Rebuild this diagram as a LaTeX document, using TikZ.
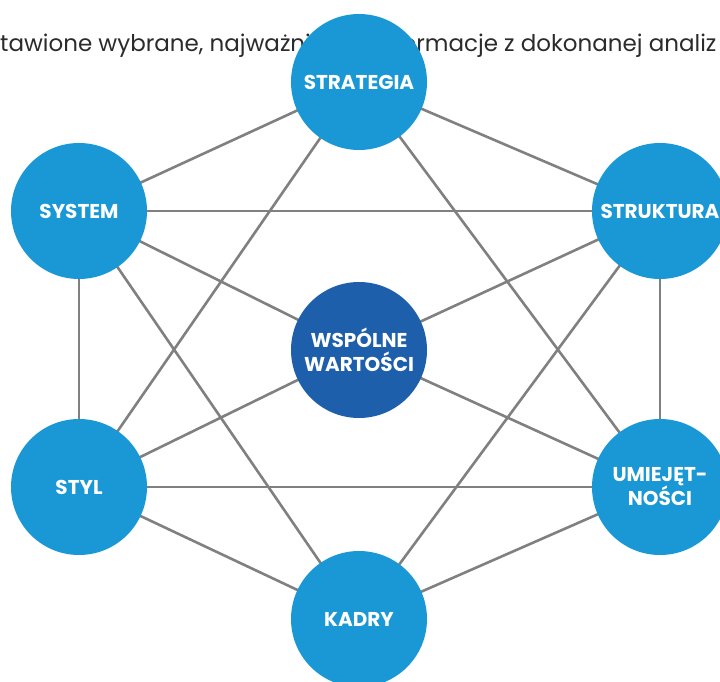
\documentclass[tikz,border=0pt]{standalone}
\usepackage{fontspec}
\setmainfont{Poppins}
\usetikzlibrary{backgrounds}
\definecolor{lightblue}{HTML}{1A98D5}
\definecolor{darkblue}{HTML}{1E5FAC}
\definecolor{linegray}{HTML}{808080}
\definecolor{introgray}{HTML}{2B2B2B}
\tikzset{
    element/.style = {circle, fill = lightblue, minimum size = 136pt, inner sep = 0pt,
        text = white, align = center, font = \bfseries\fontsize{20}{24}\selectfont},
    link/.style = {line width = 2.6pt, linegray}
}
\begin{document}
\begin{tikzpicture}[x = 1pt, y = -1pt]
        \useasboundingbox (0,0) rectangle (720,682);
        \node[anchor = base west, inner sep = 0pt, text = introgray, font = \fontsize{23}{27}\selectfont] (intro) at (0,52)
            {tawione wybrane, najważniejsze informacje z dokonanej analiz};
        \begin{scope}[every node/.append style = {element}]
            \node (strategia) at (359,82) {STRATEGIA};
            \node (system) at (79,211) {SYSTEM};
            \node (struktura) at (660,211) {STRUKTURA};
            \node[fill = darkblue] (wartosci) at (359,350) {WSPÓLNE\\WARTOŚCI};
            \node (styl) at (79,487) {STYL};
            \node (umiejetnosci) at (660,487) {UMIEJĘT-\\NOŚCI};
            \node (kadry) at (359,619) {KADRY};
        \end{scope}
        \begin{scope}[on background layer]
            \foreach \a/\b in {strategia/system, strategia/struktura, strategia/styl, strategia/umiejetnosci,
                    system/struktura, system/wartosci, system/styl, system/kadry,
                    struktura/wartosci, struktura/umiejetnosci, struktura/kadry,
                    wartosci/styl, wartosci/umiejetnosci,
                    styl/umiejetnosci, styl/kadry, umiejetnosci/kadry}
                \draw[link] (\a.center) -- (\b.center);
        \end{scope}
    \end{tikzpicture}
\end{document}
